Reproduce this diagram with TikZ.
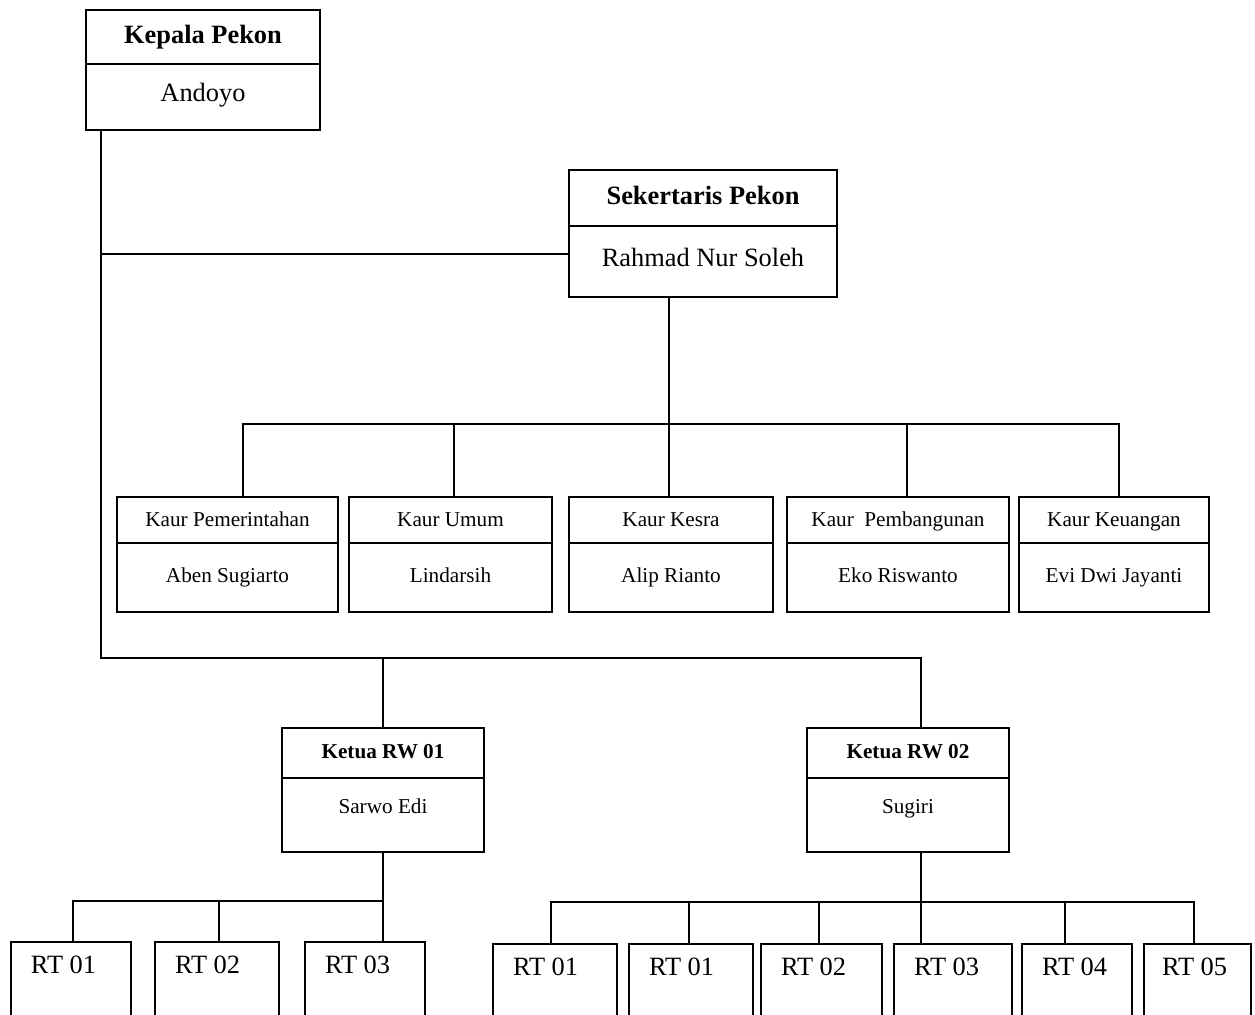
\documentclass[tikz,border=0pt]{standalone}
\usepackage{fontspec}
\setmainfont{Liberation Serif}
\usetikzlibrary{positioning}

\begin{document}
\begin{tikzpicture}[x=0.5pt,y=-0.5pt,line width=1pt,
    box/.style={draw,rectangle,outer sep=0pt,inner sep=1pt,align=center,text height=0.7em,text depth=0.2em},
    jabatan/.style={box,anchor=north west,text depth=0em,font=\fontsize{13.2}{15}\selectfont\bfseries},
    nama/.style={box,font=\fontsize{13.2}{15}\selectfont},
    kjabatan/.style={box,anchor=north west,minimum height=23pt,text depth=0.06em,font=\fontsize{10.6}{13}\selectfont},
    knama/.style={box,minimum height=34.5pt,font=\fontsize{10.6}{13}\selectfont},
    rwjabatan/.style={box,anchor=north west,minimum width=101pt,minimum height=25pt,text depth=0.12em,font=\fontsize{10.6}{13}\selectfont\bfseries},
    rwnama/.style={box,minimum width=101pt,minimum height=37pt,font=\fontsize{10.6}{13}\selectfont,text depth=8pt},
    rtbox/.style={draw,rectangle,outer sep=0pt,anchor=north west,inner xsep=10pt,inner ysep=9pt,
        text height=0.68em,text depth=25pt,align=flush left,font=\fontsize{13.2}{15}\selectfont}]
  \useasboundingbox[fill=white] (0,0) rectangle (1255,1015);
  \clip (0,0) rectangle (1255,1015);

  % kepala dan sekertaris
  \node (kades) [jabatan,minimum width=117pt,minimum height=27pt] at (86,10) {Kepala Pekon};
  \node (kadesN) [nama,below=0pt of kades,minimum width=117pt,minimum height=33pt] {Andoyo};
  \node (sekdes) [jabatan,minimum width=134pt,minimum height=28pt] at (569,170) {Sekertaris Pekon};
  \node (sekdesN) [nama,below=0pt of sekdes,minimum width=134pt,minimum height=35.5pt] {Rahmad Nur Soleh};

  % kaur
  \node (pem) [kjabatan,minimum width=110.5pt] at (117,497) {Kaur Pemerintahan};
  \node (pemN) [knama,below=0pt of pem,minimum width=110.5pt] {Aben Sugiarto};
  \node (umum) [kjabatan,minimum width=101.5pt] at (349,497) {Kaur Umum};
  \node (umumN) [knama,below=0pt of umum,minimum width=101.5pt] {Lindarsih};
  \node (kesra) [kjabatan,minimum width=102pt] at (569,497) {Kaur Kesra};
  \node (kesraN) [knama,below=0pt of kesra,minimum width=102pt] {Alip Rianto};
  \node (pemb) [kjabatan,minimum width=111pt] at (787,497) {Kaur\ \ Pembangunan};
  \node (pembN) [knama,below=0pt of pemb,minimum width=111pt] {Eko Riswanto};
  \node (keu) [kjabatan,minimum width=95pt] at (1019,497) {Kaur Keuangan};
  \node (keuN) [knama,below=0pt of keu,minimum width=95pt] {Evi Dwi Jayanti};

  % rw
  \node (rw1) [rwjabatan] at (282,728) {Ketua RW 01};
  \node (rw1N) [rwnama,below=0pt of rw1] {Sarwo Edi};
  \node (rw2) [rwjabatan] at (807,728) {Ketua RW 02};
  \node (rw2N) [rwnama,below=0pt of rw2] {Sugiri};

  % rt
  \node (rt11) [rtbox,text width=40pt] at (11,942) {RT 01};
  \node (rt12) [rtbox,text width=42pt] at (155,942) {RT 02};
  \node (rt13) [rtbox,text width=40pt] at (305,942) {RT 03};
  \node (rt21) [rtbox,text width=42pt] at (493,944) {RT 01};
  \node (rt22) [rtbox,text width=42pt] at (629,944) {RT 01};
  \node (rt23) [rtbox,text width=40.5pt] at (761,944) {RT 02};
  \node (rt24) [rtbox,text width=39pt] at (894,944) {RT 03};
  \node (rt25) [rtbox,text width=35pt] at (1022,944) {RT 04};
  \node (rt26) [rtbox,text width=35.5pt,inner xsep=9pt] at (1144,944) {RT 05};

  % garis
  \coordinate (trunk) at ([xshift=7.5pt]kadesN.south west);
  \coordinate (sekjoin) at (101,254);
  \coordinate (rwbus) at (101,658);
  \coordinate (rw2drop) at ([xshift=6.5pt]rw2.north);
  \draw (trunk) -- (rwbus) -| (rw2drop);
  \draw (sekjoin) -- (sekjoin -| sekdesN.west);
  \draw (rw1.north |- rwbus) -- (rw1.north);

  \coordinate (sekdrop) at ([xshift=-17pt]sekdesN.south);
  \coordinate (kaurL) at (243,424);
  \coordinate (kaurR) at (1119,424);
  \draw (sekdrop) -- (sekdrop |- kaurL);
  \draw (kaurL |- pem.north) -- (kaurL) -- (kaurR) -- (kaurR |- keu.north);
  \foreach \x/\n in {454/umum,669/kesra,907/pemb}
    \draw (\x,424) -- (\x,424 |- \n.north);

  \coordinate (rt1L) at (73,901);
  \draw (rw1N.south) -- (rw1N.south |- rt13.north);
  \draw (rt1L |- rt11.north) -- (rt1L) -- (rt1L -| rw1N.south);
  \draw (219,901) -- (219,901 |- rt12.north);

  \coordinate (rw2low) at ([xshift=6.5pt]rw2N.south);
  \coordinate (rt2L) at (551,902);
  \coordinate (rt2R) at (1194,902);
  \draw (rw2low) -- (rw2low |- rt2L);
  \draw (rt2L |- rt21.north) -- (rt2L) -- (rt2R) -- (rt2R |- rt26.north);
  \foreach \x/\n in {689/rt22,819/rt23,921/rt24,1065/rt25}
    \draw (\x,902) -- (\x,902 |- \n.north);
\end{tikzpicture}
\end{document}
